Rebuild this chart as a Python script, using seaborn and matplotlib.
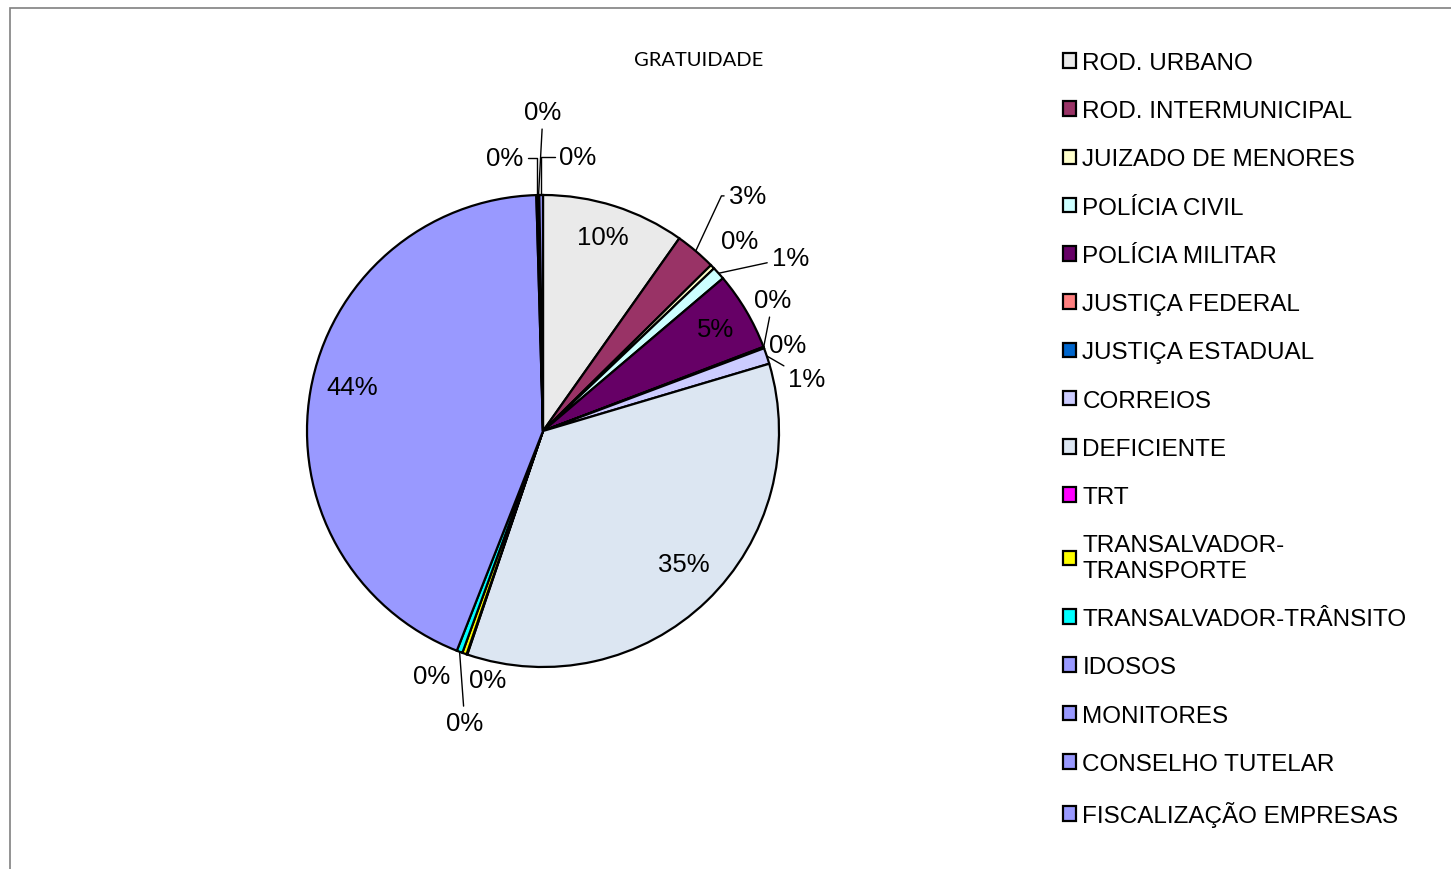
import numpy as np
import matplotlib
matplotlib.use('Agg')
import matplotlib.pyplot as plt
import matplotlib.patches as mpatches
import seaborn as sns

# Dados (percentuais estimados)
categorias = ['ROD. URBANO', 'ROD. INTERMUNICIPAL', 'JUIZADO DE MENORES', 'POLÍCIA CIVIL',
              'POLÍCIA MILITAR', 'JUSTIÇA FEDERAL', 'JUSTIÇA ESTADUAL', 'CORREIOS',
              'DEFICIENTE', 'TRT', 'TRANSALVADOR-\nTRANSPORTE', 'TRANSALVADOR-TRÂNSITO',
              'IDOSOS', 'MONITORES', 'CONSELHO TUTELAR', 'FISCALIZAÇÃO EMPRESAS']
valores = [9.8, 2.8, 0.3, 0.9, 5.4, 0.05, 0.05, 1.1,
           34.8, 0.05, 0.3, 0.4, 43.6, 0.1, 0.1, 0.25]
cores = ['#EAEAEA', '#993366', '#FFFFCC', '#CCFFFF', '#660066', '#FF8080', '#0066CC', '#CCCCFF',
         '#DCE6F2', '#FF00FF', '#FFFF00', '#00FFFF', '#9999FF', '#9999FF', '#9999FF', '#9999FF']

# Posição dos rótulos (raio, ângulo horário a partir do topo) e linha de chamada
rot_raio = [0.86, 1.32, 1.16, 1.28, 0.85, 1.12, 1.10, 1.14, 0.82, 1.14, 1.08, 1.28, 0.83, 1.17, 1.35, 1.17]
rot_ang = [17, 41, 46, 55, 59.5, 60.4, 70.6, 78.9, 133.5, 204.4, 192.5, 195, 283, 352, 0, 7.3]
chamada = [None, 'angle,angleA=0,angleB=65', None, 'arc3', None, 'arc3', None, 'arc3',
           None, None, None, 'arc3', None, 'angle,angleA=0,angleB=90', 'arc3',
           'angle,angleA=0,angleB=90']

sns.set_theme(style='white')
plt.rcParams['font.family'] = ['Liberation Sans', 'DejaVu Sans']
plt.rcParams['text.color'] = 'black'

fig = plt.figure(figsize=(14.51, 8.70), dpi=100)
raio_px = 236
meio = 1.6 * raio_px
ax = fig.add_axes([(543 - meio) / 1451, (870 - 432 - meio) / 870, 2 * meio / 1451, 2 * meio / 870])

fatias, _ = ax.pie(valores, colors=cores, startangle=90, counterclock=False,
                   wedgeprops=dict(edgecolor='black', linewidth=1.6))
ax.set_xlim(-1.6, 1.6)
ax.set_ylim(-1.6, 1.6)
ax.set_aspect('equal')
ax.axis('off')

total = sum(valores)
acumulado = np.cumsum(valores) - np.array(valores) / 2
for i, v in enumerate(valores):
    texto = f'{round(v / total * 100):.0f}%'
    ang = np.deg2rad(rot_ang[i])
    pos = (rot_raio[i] * np.sin(ang), rot_raio[i] * np.cos(ang))
    if chamada[i]:
        meio_ang = np.deg2rad(acumulado[i] / total * 360)
        borda = (np.sin(meio_ang), np.cos(meio_ang))
        ax.annotate(texto, xy=borda, xytext=pos, ha='center', va='center', fontsize=18.5,
                    color='black',
                    arrowprops=dict(arrowstyle='-', color='black', lw=1, shrinkA=1, shrinkB=0,
                                    connectionstyle=chamada[i]))
    else:
        ax.text(pos[0], pos[1], texto, ha='center', va='center', fontsize=18.5, color='black')

fig.text(699 / 1451, 1 - 60 / 870, 'GRATUIDADE', ha='center', va='center',
         fontsize=14.5, color='black', family=['Lato', 'DejaVu Sans'])

leg = fig.legend(fatias, categorias, loc='upper left', bbox_to_anchor=(1063 / 1451, 1 - 53 / 870),
                 frameon=False, fontsize=17.5, handlelength=0.55, handleheight=0.55,
                 handletextpad=0.25, labelspacing=1.08, borderpad=0, borderaxespad=0)
for t in leg.get_texts():
    t.set_color('black')

# Moldura da área do gráfico
fig.patches.append(mpatches.Rectangle((10 / 1451, -0.1), 2, 1.1 - 9 / 870, transform=fig.transFigure,
                                      fill=False, edgecolor='#808080', linewidth=1.2))

fig.savefig('out.png', dpi=100)
